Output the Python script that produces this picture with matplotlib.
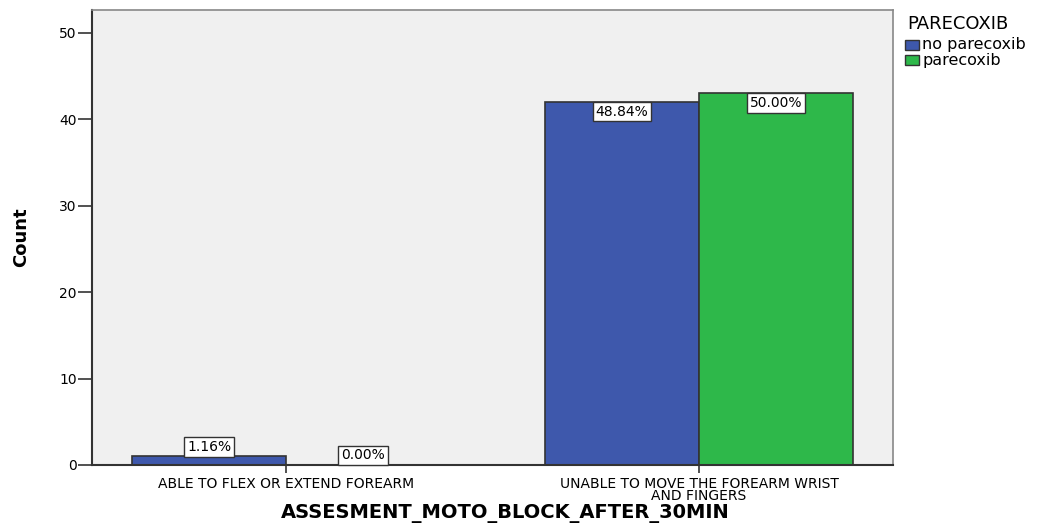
import numpy as np
import matplotlib
matplotlib.use("Agg")
import matplotlib.pyplot as plt
from matplotlib.patches import Rectangle

categories = ["ABLE TO FLEX OR EXTEND FOREARM", "UNABLE TO MOVE THE FOREARM WRIST\nAND FINGERS"]
groups = ["no parecoxib", "parecoxib"]
counts_no = [1, 42]
counts_yes = [0, 43]
pct_no = ["1.16%", "48.84%"]
pct_yes = ["0.00%", "50.00%"]

colors = ["#3E58AC", "#2EB84A"]
font = ["DejaVu Sans"]

W, H = 1057, 526
fig = plt.figure(figsize=(W/100, H/100), dpi=100)
ax = fig.add_axes([92/W, 1-465/H, (893-92)/W, (465-10)/H])
ax.set_facecolor("#F0F0F0")

x = np.arange(len(categories))
w = 0.373
series = [(counts_no, pct_no, colors[0], -w/2), (counts_yes, pct_yes, colors[1], w/2)]
for vals, labs, col, off in series:
    ax.bar(x + off, vals, width=w, color=col, edgecolor="#333333", linewidth=1.2, zorder=2)
    for xi, v, lab in zip(x + off, vals, labs):
        y = v - 1.1 if v > 5 else v + 1.1
        ax.text(xi, y, lab, ha="center", va="center", fontsize=10, family=font, zorder=3,
                bbox=dict(boxstyle="square,pad=0.2", fc="white", ec="#333333", lw=1))

ax.set_xlim(-0.47, 1.47)
ax.set_ylim(0, 52.66)
ax.set_yticks([0, 10, 20, 30, 40, 50])
ax.set_xticks(x)
ax.set_xticklabels(categories, family=font, fontsize=10, linespacing=0.75)
for t in ax.get_yticklabels():
    t.set_family(font); t.set_fontsize(10)
ax.tick_params(axis="y", direction="out", length=10, width=1.2, color="#333333", pad=1)
ax.tick_params(axis="x", direction="out", length=6, width=1.2, color="#333333", pad=3)

for s in ["top", "right"]:
    ax.spines[s].set_color("#888888")
    ax.spines[s].set_linewidth(1.2)
for s in ["left", "bottom"]:
    ax.spines[s].set_color("#333333")
    ax.spines[s].set_linewidth(1.5)

ax.set_ylabel("Count", family=["Liberation Sans Narrow", "DejaVu Sans Condensed", "DejaVu Sans"],
              fontsize=13, fontweight="bold")
ax.yaxis.set_label_coords((30-92)/801, 0.5)
fig.text(505/W, 1-518/H, "ASSESMENT_MOTO_BLOCK_AFTER_30MIN", family=font, fontsize=14,
         fontweight="bold", ha="center", va="baseline")

# legend
fig.text(907/W, 1-24/H, "PARECOXIB", family=font, fontsize=13, ha="left", va="center")
for i, (g, c) in enumerate(zip(groups, colors)):
    yc = 45 + 15*i
    fig.add_artist(Rectangle((905/W, 1-(yc+5)/H), 14/W, 10/H, transform=fig.transFigure,
                             facecolor=c, edgecolor="#333333", lw=1))
    fig.text(922/W, 1-yc/H, g, family=font, fontsize=11.5, ha="left", va="center")

fig.savefig("out.png", dpi=100)
